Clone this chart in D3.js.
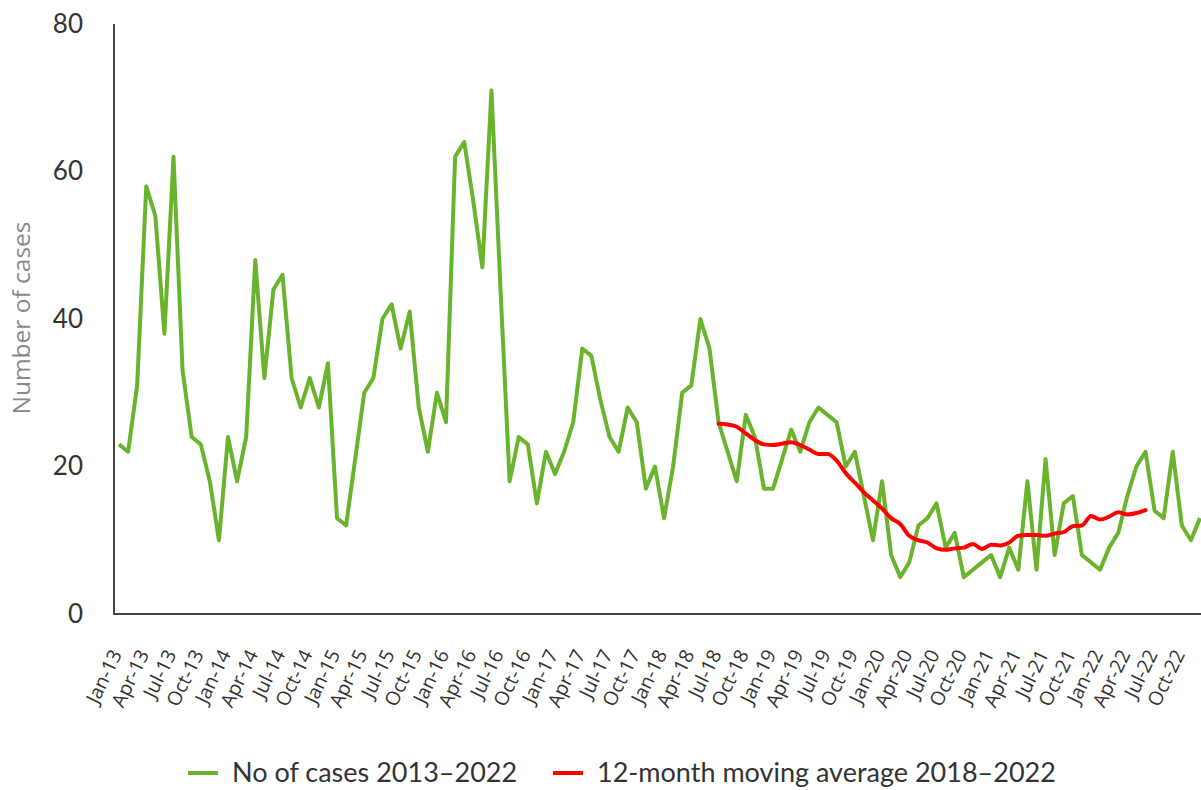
<!DOCTYPE html>
<html>
<head>
<meta charset="utf-8">
<script src="https://cdn.jsdelivr.net/npm/d3@7"></script>
<style>
  body { margin: 0; background: #fff; }
  svg { display: block; }
</style>
</head>
<body>
<svg id="chart" width="1201" height="790"></svg>
<script>
// monthly categories Jan-13 .. Dec-22
var monthNames = ["Jan", "Feb", "Mar", "Apr", "May", "Jun", "Jul", "Aug", "Sep", "Oct", "Nov", "Dec"];
var years = ["13", "14", "15", "16", "17", "18", "19", "20", "21", "22"];
var months = [];
years.forEach(function (y) {
  monthNames.forEach(function (m) { months.push(m + "-" + y); });
});

// No of cases, one value per month 2013-2022
var cases = [
  23, 22, 31, 58, 54, 38, 62, 33, 24, 23, 18, 10,
  24, 18, 24, 48, 32, 44, 46, 32, 28, 32, 28, 34,
  13, 12, 21, 30, 32, 40, 42, 36, 41, 28, 22, 30,
  26, 62, 64, 56, 47, 71, 44, 18, 24, 23, 15, 22,
  19, 22, 26, 36, 35, 29, 24, 22, 28, 26, 17, 20,
  13, 20, 30, 31, 40, 36, 26, 22, 18, 27, 24, 17,
  17, 21, 25, 22, 26, 28, 27, 26, 20, 22, 16, 10,
  18, 8, 5, 7, 12, 13, 15, 9, 11, 5, 6, 7,
  8, 5, 9, 6, 18, 6, 21, 8, 15, 16, 8, 7,
  6, 9, 11, 16, 20, 22, 14, 13, 22, 12, 10, 13
];

// 12-month moving average, Jul-18 .. Jun-22
var maStart = "Jul-18";
var movingAvg = [
  25.8, 25.7, 25.4, 24.5, 23.6, 23.0, 22.9, 23.1, 23.3, 22.9, 22.3, 21.7,
  21.7, 20.8, 19.1, 17.8, 16.5, 15.4, 14.3, 13.0, 12.2, 10.6, 10.0, 9.7,
  8.9, 8.7, 8.9, 9.0, 9.5, 8.8, 9.4, 9.3, 9.7, 10.6, 10.7, 10.7,
  10.6, 10.9, 11.1, 11.9, 12.0, 13.3, 12.8, 13.2, 13.8, 13.5, 13.7, 14.1
];

var yTicks = [0, 20, 40, 60, 80];
var seriesNames = ["No of cases 2013\u20132022", "12-month moving average 2018\u20132022"];
var seriesColors = ["#6ab42d", "#ff0000"];

var svg = d3.select("#chart");
var plotLeft = 114, plotRight = 1201, plotTop = 24, plotBottom = 614;

var x = d3.scalePoint()
  .domain(months)
  .range([119, 1200]);

var y = d3.scaleLinear()
  .domain([0, 80])
  .range([plotBottom, plotTop]);

// y axis: labels only, line drawn below
svg.append("g")
  .attr("transform", "translate(" + plotLeft + ",0)")
  .call(d3.axisLeft(y).tickValues(yTicks).tickSize(0).tickPadding(31))
  .call(function (g) { g.select(".domain").remove(); })
  .selectAll("text")
  .style("font-family", "Lato, sans-serif")
  .style("font-size", "26px")
  .style("fill", "#333");

// x axis: every third month, slanted labels
var xAxis = svg.append("g")
  .attr("transform", "translate(0," + plotBottom + ")")
  .call(d3.axisBottom(x)
    .tickValues(months.filter(function (d, i) { return i % 3 === 0; }))
    .tickSize(0));
xAxis.select(".domain").remove();
xAxis.selectAll("text")
  .attr("y", 0)
  .attr("dy", 0)
  .attr("transform", "translate(3,40) rotate(-64)")
  .style("text-anchor", "end")
  .style("font-family", "'Open Sans', sans-serif")
  .style("font-size", "19.5px")
  .style("fill", "#333");

// axis lines
svg.append("path")
  .attr("d", "M" + plotLeft + "," + plotTop + "V" + plotBottom + "H" + plotRight)
  .attr("fill", "none")
  .attr("stroke", "#444")
  .attr("stroke-width", 2);

// y axis title
svg.append("text")
  .attr("transform", "translate(30,318) rotate(-90)")
  .style("text-anchor", "middle")
  .style("font-family", "'Open Sans', sans-serif")
  .style("font-size", "24.5px")
  .style("fill", "#8a8a8a")
  .text("Number of cases");

var line = d3.line()
  .x(function (d) { return x(d.m); })
  .y(function (d) { return y(d.v); });

var casesData = cases.map(function (v, i) { return {m: months[i], v: v}; });
var startIdx = months.indexOf(maStart);
var maData = movingAvg.map(function (v, i) { return {m: months[startIdx + i], v: v}; });

svg.append("path")
  .datum(casesData)
  .attr("fill", "none")
  .attr("stroke", seriesColors[0])
  .attr("stroke-width", 4)
  .attr("stroke-linejoin", "round")
  .attr("d", line);

svg.append("path")
  .datum(maData)
  .attr("fill", "none")
  .attr("stroke", seriesColors[1])
  .attr("stroke-width", 4)
  .attr("stroke-linejoin", "round")
  .attr("stroke-linecap", "round")
  .attr("d", line.curve(d3.curveMonotoneX));

// legend
var legendX = [188, 553];
var legend = svg.selectAll(".legend")
  .data(seriesNames)
  .enter().append("g")
  .attr("class", "legend")
  .attr("transform", function (d, i) { return "translate(" + legendX[i] + ",773)"; });

legend.append("line")
  .attr("x1", 0).attr("x2", 30)
  .attr("stroke", function (d, i) { return seriesColors[i]; })
  .attr("stroke-width", 4);

legend.append("text")
  .attr("x", 44)
  .attr("dy", "0.35em")
  .style("font-family", "Lato, sans-serif")
  .style("font-size", "27px")
  .style("fill", "#333")
  .text(function (d) { return d; });
</script>
</body>
</html>
